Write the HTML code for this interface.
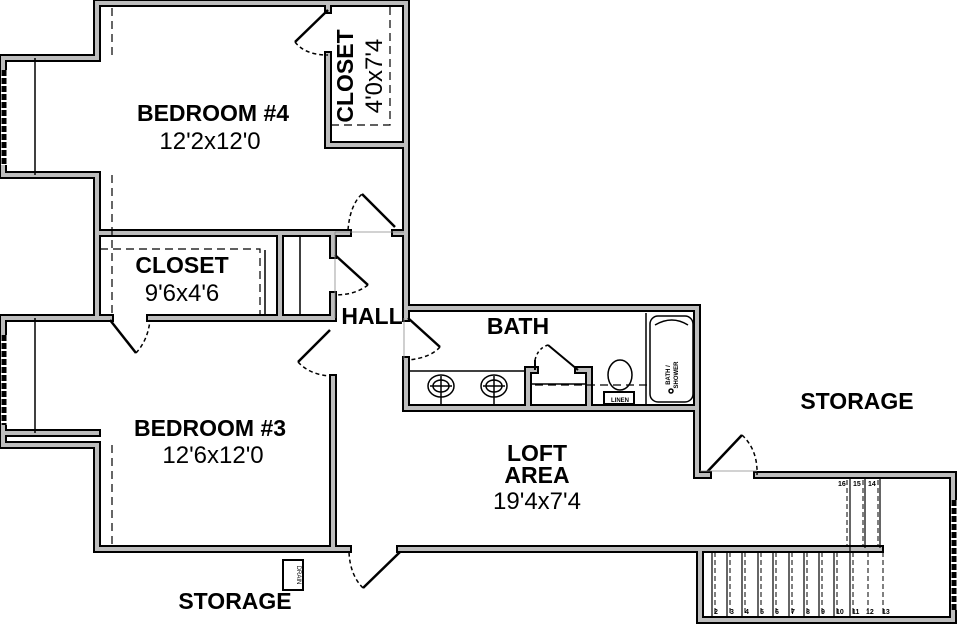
<!DOCTYPE html>
<html><head><meta charset="utf-8"><style>
html,body{margin:0;padding:0;background:#fff;}
svg{display:block}
text{font-family:"Liberation Sans",sans-serif;fill:#000}
.b{font-weight:bold}
</style></head><body>
<svg width="960" height="625" viewBox="0 0 960 625" xmlns="http://www.w3.org/2000/svg">
<g id="walls" fill="none" stroke="#000" stroke-width="8" stroke-linecap="square">
<polyline points="97,3 406,3 406,308 697,308 697,475 708,475"/>
<polyline points="757,475 953,475 953,620 700,620 700,549 400,549"/>
<polyline points="348,549 97,549 97,445 3,445 3,318 110,318"/>
<polyline points="150,318 333,318 333,295"/>
<polyline points="333,255 333,233 348,233"/>
<polyline points="395,233 406,233"/>
<polyline points="97,233 97,175 3,175 3,58 97,58 97,3"/>
<polyline points="97,233 97,318"/>
<polyline points="97,233 348,233"/>
<polyline points="280,233 280,318"/>
<polyline points="328,3 328,10"/>
<polyline points="328,55 328,145 406,145"/>
<polyline points="333,378 333,549"/>
<polyline points="3,433 97,433"/>
<polyline points="406,308 406,318"/>
<polyline points="406,360 406,408 697,408"/>
<polyline points="700,549 880,549"/>
<polyline points="528,408 528,370 535,370"/>
<polyline points="578,370 589,370 589,408"/>
</g>
<g stroke="#bdbdbd" stroke-width="4" fill="none" stroke-linecap="square">
<polyline points="97,3 406,3 406,308 697,308 697,475 708,475"/>
<polyline points="757,475 953,475 953,620 700,620 700,549 400,549"/>
<polyline points="348,549 97,549 97,445 3,445 3,318 110,318"/>
<polyline points="150,318 333,318 333,295"/>
<polyline points="333,255 333,233 348,233"/>
<polyline points="395,233 406,233"/>
<polyline points="97,233 97,175 3,175 3,58 97,58 97,3"/>
<polyline points="97,233 97,318"/>
<polyline points="97,233 348,233"/>
<polyline points="280,233 280,318"/>
<polyline points="328,3 328,10"/>
<polyline points="328,55 328,145 406,145"/>
<polyline points="333,378 333,549"/>
<polyline points="3,433 97,433"/>
<polyline points="406,308 406,318"/>
<polyline points="406,360 406,408 697,408"/>
<polyline points="700,549 880,549"/>
<polyline points="528,408 528,370 535,370"/>
<polyline points="578,370 589,370 589,408"/>
</g>
<g stroke="#000" fill="none" stroke-width="1.5">
<rect x="1" y="70" width="6" height="95" fill="#fff" stroke="none"/>
<rect x="1" y="335" width="6" height="90" fill="#fff" stroke="none"/>
<rect x="951" y="500" width="6" height="110" fill="#fff" stroke="none"/>
<line x1="4" y1="70" x2="4" y2="165" stroke-width="5" stroke-dasharray="6,2"/>
<line x1="4" y1="335" x2="4" y2="425" stroke-width="5" stroke-dasharray="6,2"/>
<line x1="954" y1="500" x2="954" y2="610" stroke-width="5" stroke-dasharray="6,2"/>
<line x1="35" y1="58" x2="35" y2="175"/>
<line x1="35" y1="318" x2="35" y2="433"/>
<g stroke-dasharray="8,5" stroke-width="1.2">
<line x1="112" y1="8" x2="112" y2="58"/>
<line x1="112" y1="175" x2="112" y2="318"/>
<line x1="112" y1="445" x2="112" y2="545"/>
<polyline points="100,249 260,249 260,316"/>
<polyline points="390,7 390,125 332,125"/>
<line x1="535" y1="385" x2="650" y2="385"/>
</g>
<line x1="265" y1="250" x2="265" y2="316"/>
<line x1="300" y1="236" x2="300" y2="316"/>
<line x1="328" y1="10" x2="295" y2="42" stroke-width="2.5"/>
<path d="M295,42 Q305,55 328,55" stroke-dasharray="4,3"/>
<line x1="395" y1="227" x2="362" y2="194" stroke-width="2.5"/>
<path d="M348,230 Q350,205 362,194" stroke-dasharray="4,3"/>
<line x1="335" y1="255" x2="368" y2="285" stroke-width="2.5"/>
<path d="M368,285 Q355,295 335,295" stroke-dasharray="4,3"/>
<line x1="110" y1="320" x2="136" y2="353" stroke-width="2.5"/>
<path d="M136,353 Q148,340 150,320" stroke-dasharray="4,3"/>
<line x1="330" y1="330" x2="298" y2="362" stroke-width="2.5"/>
<path d="M298,362 Q310,375 331,376" stroke-dasharray="4,3"/>
<line x1="408" y1="318" x2="440" y2="347" stroke-width="2.5"/>
<path d="M440,347 Q430,358 408,360" stroke-dasharray="4,3"/>
<line x1="400" y1="552" x2="363" y2="588" stroke-width="2.5"/>
<path d="M363,588 Q350,575 349,552" stroke-dasharray="4,3"/>
<line x1="707" y1="472" x2="742" y2="435" stroke-width="2.5"/>
<path d="M742,435 Q758,450 757,475" stroke-dasharray="4,3"/>
<line x1="700" y1="471" x2="757" y2="471" stroke="#888" stroke-width="0.8"/>
<line x1="335" y1="232" x2="404" y2="232" stroke="#888" stroke-width="0.8"/>
<line x1="335" y1="232" x2="335" y2="318" stroke="#888" stroke-width="0.8"/>
<line x1="404" y1="318" x2="404" y2="360" stroke="#888" stroke-width="0.8"/>
<line x1="410" y1="371" x2="526" y2="371"/>
<path d="M535,370 L535,360 M548,345 L578,370" stroke-width="2"/>
<path d="M535,360 Q538,348 548,345" stroke-dasharray="3,3"/>
<line x1="532" y1="384" x2="586" y2="384"/>
<ellipse cx="441" cy="386" rx="13" ry="11"/><ellipse cx="441" cy="386" rx="8" ry="6"/>
<line x1="430" y1="386" x2="452" y2="386"/><line x1="441" y1="376" x2="441" y2="404"/>
<ellipse cx="494" cy="386" rx="13" ry="11"/><ellipse cx="494" cy="386" rx="8" ry="6"/>
<line x1="483" y1="386" x2="505" y2="386"/><line x1="494" y1="376" x2="494" y2="404"/>
<line x1="646" y1="313" x2="646" y2="406"/>
<rect x="650" y="316" width="43" height="86" rx="8"/>
<path d="M655,325 Q672,315 688,325"/>
<ellipse cx="620" cy="375" rx="12" ry="15"/>
<rect x="604" y="392" width="30" height="12" stroke-width="2"/>
<circle cx="671" cy="391" r="2"/>
<g stroke-width="1.2">
<line x1="712" y1="552" x2="712" y2="618"/><line x1="727" y1="552" x2="727" y2="618"/>
<line x1="742" y1="552" x2="742" y2="618"/><line x1="758" y1="552" x2="758" y2="618"/>
<line x1="773" y1="552" x2="773" y2="618"/><line x1="789" y1="552" x2="789" y2="618"/>
<line x1="804" y1="552" x2="804" y2="618"/><line x1="819" y1="552" x2="819" y2="618"/>
<line x1="834" y1="552" x2="834" y2="618"/><line x1="850" y1="478" x2="850" y2="618"/>
<line x1="865" y1="478" x2="865" y2="548"/><line x1="880" y1="478" x2="880" y2="548"/>
</g>
<g stroke-dasharray="5,3" stroke-width="1">
<line x1="715" y1="552" x2="715" y2="618"/><line x1="730" y1="552" x2="730" y2="618"/>
<line x1="745" y1="552" x2="745" y2="618"/><line x1="761" y1="552" x2="761" y2="618"/>
<line x1="776" y1="552" x2="776" y2="618"/><line x1="792" y1="552" x2="792" y2="618"/>
<line x1="807" y1="552" x2="807" y2="618"/><line x1="822" y1="552" x2="822" y2="618"/>
<line x1="837" y1="552" x2="837" y2="618"/><line x1="853" y1="552" x2="853" y2="618"/>
<line x1="868" y1="552" x2="868" y2="618"/><line x1="883" y1="552" x2="883" y2="618"/>
<line x1="847" y1="480" x2="847" y2="546"/><line x1="863" y1="480" x2="863" y2="546"/><line x1="878" y1="480" x2="878" y2="546"/>
</g>
<rect x="283" y="560" width="20" height="30" stroke-width="2"/>
</g>
<g font-size="7" class="b">
<text x="714" y="614">2</text><text x="730" y="614">3</text><text x="745" y="614">4</text><text x="760" y="614">5</text>
<text x="775" y="614">6</text><text x="791" y="614">7</text><text x="806" y="614">8</text><text x="821" y="614">9</text>
<text x="836" y="614">10</text><text x="852" y="614">11</text><text x="866" y="614">12</text><text x="882" y="614">13</text>
<text x="838" y="486">16</text><text x="853" y="486">15</text><text x="868" y="486">14</text>
</g>
<text x="611" y="402" font-size="6" class="b">LINEN</text>
<text transform="translate(670,375) rotate(-90)" font-size="6" class="b" text-anchor="middle">BATH /</text>
<text transform="translate(678,375) rotate(-90)" font-size="6" class="b" text-anchor="middle">SHOWER</text>
<text transform="translate(297,575) rotate(90)" font-size="6" text-anchor="middle">DRAIN</text>
<g class="b" font-size="23" text-anchor="middle">
<text x="213" y="121">BEDROOM #4</text>
<text x="182" y="273">CLOSET</text>
<text x="210" y="436">BEDROOM #3</text>
<text x="372" y="324">HALL</text>
<text x="518" y="334">BATH</text>
<text x="537" y="461">LOFT</text>
<text x="537" y="483">AREA</text>
<text x="857" y="409">STORAGE</text>
<text x="235" y="609">STORAGE</text>
<text transform="translate(353,76) rotate(-90)">CLOSET</text>
</g>
<g font-size="24" text-anchor="middle">
<text x="210" y="149">12'2x12'0</text>
<text x="182" y="301">9'6x4'6</text>
<text x="213" y="463">12'6x12'0</text>
<text x="537" y="509">19'4x7'4</text>
<text transform="translate(382,76) rotate(-90)">4'0x7'4</text>
</g>
</svg>
</body></html>
